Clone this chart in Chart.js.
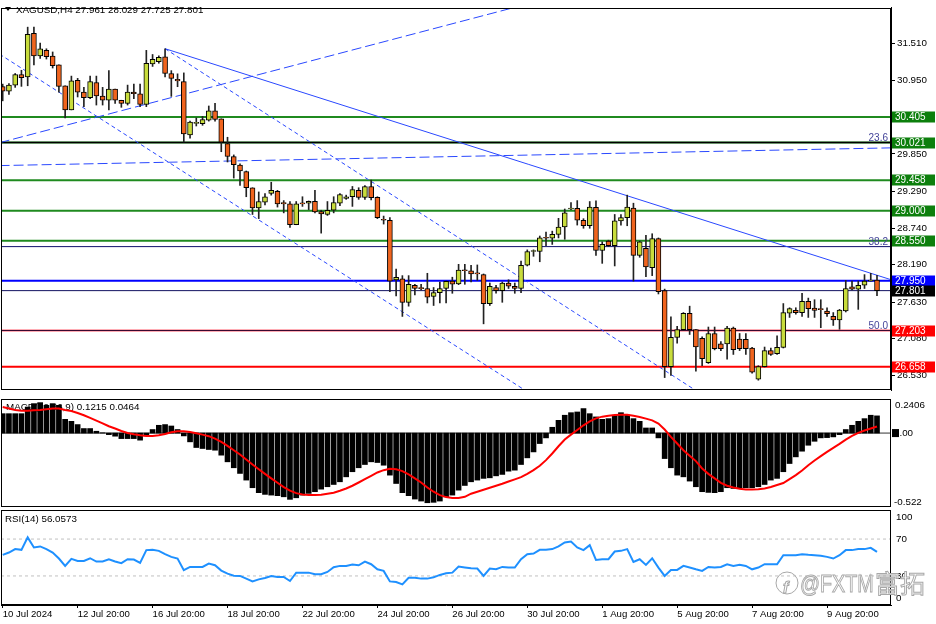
<!DOCTYPE html>
<html>
<head>
<meta charset="utf-8">
<title>XAGUSD H4</title>
<script src="https://cdn.jsdelivr.net/npm/chart.js@4.4.1/dist/chart.umd.min.js"></script>
<style>
  html, body { margin: 0; padding: 0; background: #fff; }
  #wrap { position: relative; width: 936px; height: 624px; overflow: hidden; background: #fff; }
  #wrap canvas { position: absolute; left: 0; }
</style>
</head>
<body>
<div id="wrap">
  <canvas id="mainChart" width="936" height="398" style="top:0"></canvas>
  <canvas id="macdChart" width="936" height="110" style="top:398px"></canvas>
  <canvas id="rsiChart" width="936" height="115" style="top:509px"></canvas>
</div>
<script>
// ---- values ----
const symbol = 'XAGUSD,H4';
const barsPerLabel = 12;
const timeLabels = ['10 Jul 2024', '12 Jul 20:00', '16 Jul 20:00', '18 Jul 20:00', '22 Jul 20:00', '24 Jul 20:00',
  '26 Jul 20:00', '30 Jul 20:00', '1 Aug 20:00', '5 Aug 20:00', '7 Aug 20:00', '9 Aug 20:00'];

const opens = [
  30.859, 30.791, 30.883, 31.042, 31.004, 31.660, 31.322, 31.404, 31.317, 31.187,
  30.873, 30.511, 30.955, 30.777, 30.695, 30.922, 30.719, 30.656, 30.825, 30.656,
  30.608, 30.777, 30.753, 30.594, 31.202, 31.235, 31.308, 31.057, 30.970, 30.936,
  30.135, 30.309, 30.304, 30.357, 30.497, 30.377, 30.005, 29.812, 29.682, 29.585,
  29.344, 29.040, 29.127, 29.257, 29.291, 29.122, 29.103, 28.789, 29.112, 29.112,
  29.141, 28.987, 28.943, 29.006, 29.112, 29.185, 29.209, 29.305, 29.199, 29.363,
  29.199, 28.871, 28.856, 27.963, 27.978, 27.626, 27.882, 27.833, 27.833, 27.713,
  27.771, 27.833, 27.944, 27.900, 28.109, 28.099, 28.056, 28.041, 27.607, 27.848,
  27.800, 27.915, 27.867, 27.833, 28.181, 28.388, 28.388, 28.591, 28.586, 28.644,
  28.755, 29.025, 29.035, 28.856, 28.774, 29.049, 28.403, 28.543, 28.475, 28.847,
  28.895, 29.040, 28.330, 28.437, 28.147, 28.581, 27.800, 26.661, 27.100, 27.216,
  27.462, 27.216, 27.086, 26.719, 27.158, 27.003, 27.003, 27.240, 27.076, 27.071,
  26.941, 26.473, 26.661, 26.902, 26.854, 26.950, 27.462, 27.506, 27.472, 27.640,
  27.539, 27.520, 27.496, 27.414, 27.361, 27.496, 27.858, 27.824, 27.882, 27.944,
  27.961];
const highs = [
  30.898, 30.907, 31.057, 31.105, 31.752, 31.752, 31.515, 31.428, 31.380, 31.187,
  30.873, 31.018, 30.984, 30.849, 31.018, 31.018, 30.849, 31.100, 30.825, 30.656,
  30.883, 30.898, 30.898, 31.404, 31.342, 31.322, 31.428, 31.100, 31.052, 31.066,
  30.343, 30.391, 30.415, 30.570, 30.608, 30.377, 30.101, 29.836, 29.701, 29.595,
  29.344, 29.281, 29.257, 29.426, 29.305, 29.151, 29.137, 29.137, 29.209, 29.146,
  29.305, 29.006, 29.137, 29.209, 29.257, 29.233, 29.363, 29.344, 29.378, 29.460,
  29.209, 28.919, 28.895, 28.123, 28.026, 28.026, 27.896, 27.896, 28.061, 27.848,
  27.930, 27.944, 28.002, 28.195, 28.195, 28.181, 28.186, 28.051, 27.915, 27.882,
  27.930, 27.964, 27.915, 28.244, 28.412, 28.412, 28.620, 28.678, 28.693, 28.885,
  29.025, 29.122, 29.151, 28.880, 29.137, 29.146, 28.533, 28.557, 28.943, 28.943,
  29.233, 29.112, 28.543, 28.630, 28.654, 28.591, 27.824, 27.409, 27.264, 27.472,
  27.568, 27.216, 27.110, 27.255, 27.255, 27.037, 27.264, 27.255, 27.158, 27.158,
  26.950, 26.675, 26.955, 26.941, 27.124, 27.607, 27.544, 27.544, 27.761, 27.689,
  27.665, 27.665, 27.544, 27.472, 27.520, 27.954, 27.944, 27.944, 28.041, 28.061,
  28.029];
const lows = [
  30.647, 30.743, 30.849, 30.864, 30.873, 31.187, 31.284, 31.274, 31.139, 30.777,
  30.391, 30.511, 30.705, 30.560, 30.680, 30.584, 30.584, 30.511, 30.608, 30.550,
  30.584, 30.680, 30.560, 30.560, 31.163, 31.211, 31.004, 30.714, 30.859, 30.029,
  30.087, 30.270, 30.280, 30.343, 30.343, 29.884, 29.730, 29.489, 29.378, 29.209,
  28.943, 28.881, 29.088, 29.233, 29.054, 28.967, 28.750, 28.789, 29.064, 29.016,
  28.967, 28.663, 28.929, 28.967, 29.074, 29.170, 29.064, 29.170, 29.170, 29.161,
  28.881, 28.799, 27.785, 27.723, 27.414, 27.568, 27.737, 27.810, 27.616, 27.578,
  27.616, 27.616, 27.761, 27.890, 27.896, 27.930, 27.954, 27.303, 27.578, 27.761,
  27.626, 27.833, 27.761, 27.771, 28.171, 28.316, 28.234, 28.475, 28.494, 28.591,
  28.571, 29.016, 28.784, 28.736, 28.736, 28.330, 28.210, 28.461, 28.171, 28.784,
  28.774, 27.944, 28.301, 28.012, 28.026, 27.751, 26.497, 26.531, 27.013, 27.206,
  27.143, 26.593, 26.676, 26.709, 26.912, 26.902, 26.772, 26.844, 26.902, 26.844,
  26.564, 26.458, 26.656, 26.830, 26.844, 26.941, 27.399, 27.448, 27.414, 27.399,
  27.399, 27.245, 27.414, 27.279, 27.221, 27.481, 27.810, 27.520, 27.833, 27.944,
  27.725];
const closes = [
  30.791, 30.883, 31.042, 30.994, 31.646, 31.322, 31.428, 31.308, 31.173, 30.864,
  30.511, 30.946, 30.777, 30.695, 30.936, 30.719, 30.656, 30.825, 30.656, 30.608,
  30.777, 30.753, 30.594, 31.211, 31.269, 31.298, 31.057, 30.984, 30.946, 30.150,
  30.329, 30.319, 30.367, 30.497, 30.367, 30.029, 29.812, 29.691, 29.595, 29.344,
  29.040, 29.137, 29.209, 29.305, 29.103, 29.103, 28.789, 29.103, 29.103, 29.141,
  28.982, 28.953, 29.006, 29.122, 29.243, 29.209, 29.315, 29.199, 29.363, 29.194,
  28.895, 28.856, 27.944, 28.002, 27.626, 27.896, 27.833, 27.830, 27.703, 27.771,
  27.833, 27.940, 27.896, 28.109, 28.099, 28.051, 28.051, 27.607, 27.867, 27.800,
  27.915, 27.867, 27.833, 28.181, 28.388, 28.398, 28.591, 28.586, 28.644, 28.755,
  28.967, 29.030, 28.856, 28.774, 29.054, 28.403, 28.495, 28.475, 28.847, 28.895,
  29.054, 28.330, 28.533, 28.157, 28.581, 27.785, 26.661, 27.100, 27.216, 27.462,
  27.216, 26.955, 26.782, 27.158, 26.931, 26.931, 27.240, 26.917, 26.931, 26.931,
  26.579, 26.661, 26.902, 26.844, 26.950, 27.472, 27.530, 27.472, 27.640, 27.530,
  27.506, 27.515, 27.457, 27.361, 27.510, 27.833, 27.824, 27.882, 27.944, 27.961,
  27.801];

const priceTicks = [31.51, 30.95, 29.85, 29.29, 28.74, 28.19, 27.63, 27.08, 26.53];
const greenLevels = [30.405, 30.021, 29.458, 29.000, 28.550];
const blueLevel = 27.950;
const bidPrice = 27.801;
const redLevels = [27.203, 26.658];
const fibNames = ['23.6', '38.2', '50.0'];
const fibPrices = [30.021, 28.461, 27.203];
const boxPrices = [30.405, 30.021, 29.458, 29.000, 28.550, 27.950, 27.801, 27.203, 26.658];
// trend lines: [startBar, startPrice, endBar, endPrice]
const upLine = [-0.5, 30.019, 90, 32.246];
const flatLine = [-0.5, 29.676, 142.3, 29.942];
const downLine = [26, 31.429, 142.3, 27.963];
const channelTop = [26, 31.429, 120, 25.760];
const channelBottom = [-0.5, 31.347, 90, 25.926];

const macdHist = [
  0.137, 0.137, 0.137, 0.137, 0.184, 0.208, 0.215, 0.196, 0.208, 0.196,
  0.097, 0.083, 0.060, 0.032, 0.032, 0.013, 0.002, -0.011, -0.022, -0.039,
  -0.039, -0.039, -0.050, -0.020, 0.025, 0.055, 0.060, 0.050, 0.025, -0.020,
  -0.062, -0.102, -0.109, -0.116, -0.121, -0.156, -0.203, -0.245, -0.285, -0.332,
  -0.386, -0.421, -0.433, -0.438, -0.442, -0.450, -0.468, -0.457, -0.438, -0.426,
  -0.414, -0.396, -0.379, -0.363, -0.344, -0.309, -0.273, -0.245, -0.222, -0.203,
  -0.208, -0.227, -0.297, -0.356, -0.421, -0.442, -0.466, -0.480, -0.492, -0.489,
  -0.480, -0.450, -0.438, -0.403, -0.370, -0.344, -0.332, -0.320, -0.316, -0.302,
  -0.292, -0.269, -0.262, -0.222, -0.175, -0.133, -0.074, -0.034, 0.041, 0.090,
  0.126, 0.144, 0.149, 0.173, 0.137, 0.114, 0.097, 0.102, 0.126, 0.144,
  0.126, 0.102, 0.083, 0.036, 0.036, -0.034, -0.180, -0.245, -0.297, -0.309,
  -0.339, -0.379, -0.414, -0.419, -0.421, -0.414, -0.386, -0.391, -0.386, -0.386,
  -0.386, -0.379, -0.363, -0.332, -0.320, -0.273, -0.215, -0.168, -0.128, -0.086,
  -0.058, -0.034, -0.032, -0.027, -0.011, 0.025, 0.055, 0.083, 0.102, 0.126,
  0.1215];
const macdSignal = [
  0.184, 0.173, 0.163, 0.158, 0.158, 0.161, 0.163, 0.168, 0.173, 0.173,
  0.163, 0.156, 0.142, 0.126, 0.107, 0.088, 0.069, 0.048, 0.032, 0.015,
  0.001, -0.008, -0.015, -0.020, -0.020, -0.015, -0.006, 0.006, 0.013, 0.013,
  0.008, -0.001, -0.011, -0.022, -0.039, -0.062, -0.090, -0.121, -0.151, -0.187,
  -0.222, -0.255, -0.288, -0.320, -0.351, -0.381, -0.407, -0.424, -0.433, -0.438,
  -0.438, -0.435, -0.428, -0.421, -0.407, -0.391, -0.372, -0.349, -0.325, -0.302,
  -0.278, -0.262, -0.252, -0.255, -0.269, -0.292, -0.320, -0.349, -0.384, -0.414,
  -0.438, -0.452, -0.459, -0.459, -0.450, -0.428, -0.414, -0.400, -0.386, -0.372,
  -0.358, -0.342, -0.327, -0.311, -0.288, -0.262, -0.231, -0.191, -0.144, -0.093,
  -0.046, -0.011, 0.022, 0.055, 0.083, 0.104, 0.116, 0.123, 0.128, 0.130,
  0.130, 0.123, 0.114, 0.102, 0.090, 0.067, 0.025, -0.027, -0.074, -0.121,
  -0.160, -0.198, -0.250, -0.288, -0.320, -0.351, -0.372, -0.384, -0.393, -0.398,
  -0.398, -0.396, -0.391, -0.381, -0.367, -0.353, -0.325, -0.297, -0.264, -0.227,
  -0.194, -0.163, -0.133, -0.104, -0.076, -0.046, -0.020, 0.001, 0.018, 0.032,
  0.0464];
const macdRange = [-0.522, 0.2406];

const rsiValues = [
  52.9, 55.4, 59.1, 58.3, 71.8, 60.9, 62.0, 59.1, 55.4, 48.9,
  40.9, 48.5, 46.3, 46.3, 49.2, 45.6, 45.6, 48.1, 45.6, 43.8,
  48.1, 47.8, 44.1, 58.0, 58.3, 57.2, 53.6, 50.7, 48.9, 36.2,
  39.8, 39.8, 39.8, 43.4, 41.6, 35.8, 32.5, 30.3, 30.0, 27.1,
  24.1, 26.3, 27.8, 30.0, 28.9, 28.9, 24.5, 33.6, 33.6, 33.6,
  31.8, 31.8, 34.3, 39.4, 40.9, 40.9, 42.3, 41.6, 45.6, 42.7,
  37.3, 35.5, 24.1, 23.4, 20.9, 28.1, 28.1, 27.1, 27.1, 28.5,
  31.1, 32.9, 33.6, 40.2, 39.2, 38.3, 38.0, 30.0, 38.0, 37.2,
  39.8, 39.1, 39.1, 48.1, 53.6, 54.3, 58.3, 58.3, 59.1, 62.0,
  66.3, 67.4, 60.9, 58.0, 63.4, 47.4, 48.1, 48.1, 56.5, 57.2,
  59.1, 45.2, 48.1, 42.0, 49.2, 39.1, 30.0, 36.5, 36.5, 40.9,
  39.1, 37.2, 35.5, 39.8, 39.1, 39.8, 42.7, 40.9, 42.0, 40.9,
  37.2, 39.1, 42.7, 42.7, 42.7, 52.5, 52.5, 52.5, 53.6, 52.9,
  52.5, 51.8, 50.7, 48.9, 52.5, 58.0, 58.0, 59.1, 59.1, 60.5,
  56.0573];
const rsiLevels = [70, 30];
const rsiAxisLabels = [100, 70, 30, 0];

// ---- chart setup ----
const FONT = 'Liberation Sans';
Chart.defaults.font.family = FONT;
Chart.defaults.font.size = 10;
Chart.defaults.color = '#000';

const X_MIN = -0.272, X_MAX = 142.242;
const bars = opens.map((_, i) => i);
const last = bars.length - 1;
const bullColor = '#c8dc3c', bearColor = '#f0641e';

function lineDs(seg, color, width, dash, order) {
  return {
    type: 'line',
    data: [{ x: seg[0], y: seg[1] }, { x: seg[2], y: seg[3] }],
    borderColor: color, borderWidth: width, borderDash: dash || [],
    pointRadius: 0, fill: false, tension: 0, order: order
  };
}
function hline(v, color, width, dash, order) {
  return lineDs([X_MIN, v, X_MAX, v], color, width, dash, order);
}
const hiddenX = { type: 'linear', min: X_MIN, max: X_MAX, offset: false, display: false, grid: { offset: false } };
const common = {
  responsive: false, animation: false, events: [],
  plugins: { legend: { display: false }, tooltip: { enabled: false } }
};

const framePlugin = {
  id: 'frame',
  afterDraw(chart) {
    const { ctx, chartArea: a } = chart;
    ctx.save();
    ctx.strokeStyle = '#000';
    ctx.lineWidth = 1;
    ctx.strokeRect(Math.round(a.left) + 0.5, Math.round(a.top) + 0.5,
      Math.round(a.right - a.left) - 1, Math.round(a.bottom - a.top) - 1);
    ctx.restore();
  }
};

// main price pane
const mainDatasets = [
  {
    type: 'bar', label: 'body',
    data: bars.map(i => ({ x: i, y: [opens[i], closes[i]] })),
    backgroundColor: bars.map(i => closes[i] >= opens[i] ? bullColor : bearColor),
    borderColor: '#000', borderWidth: 1, borderSkipped: false,
    barThickness: 5, minBarLength: 1, grouped: false, order: 0
  },
  {
    type: 'bar', label: 'wick',
    data: bars.map(i => ({ x: i, y: [lows[i], highs[i]] })),
    backgroundColor: '#222', barThickness: 1, grouped: false, order: 1
  }
];
greenLevels.forEach(v => mainDatasets.push(hline(v, '#1f8a1f', 2, null, 6)));
fibPrices.forEach((v, k) => mainDatasets.push(hline(v, k === 0 ? '#000' : (k === 2 ? '#3a0830' : '#10106e'), k === 0 ? 1.5 : 1, null, 4)));
mainDatasets.push(hline(redLevels[0], '#ff5a6a', 2, null, 5));
mainDatasets.push(hline(redLevels[1], '#ff0000', 2, null, 5));
mainDatasets.push(hline(blueLevel, '#0000ff', 2, null, 5));
mainDatasets.push(hline(bidPrice, '#101060', 1, null, 4));
mainDatasets.push(lineDs(upLine, '#2a48ff', 1, [10, 4], 3));
mainDatasets.push(lineDs(flatLine, '#2a48ff', 1, [10, 4], 3));
mainDatasets.push(lineDs(downLine, '#2a48ff', 1, null, 3));
mainDatasets.push(lineDs(channelTop, '#2a48ff', 1, [4, 3], 3));
mainDatasets.push(lineDs(channelBottom, '#2a48ff', 1, [4, 3], 3));

const boxColors = ['#0c7f0c', '#0c7f0c', '#0c7f0c', '#0c7f0c', '#0c7f0c', '#0000ff', '#000', '#ff0000', '#ff0000'];

const mainOverlay = {
  id: 'mainOverlay',
  afterDatasetsDraw(chart) {
    const { ctx, chartArea: a } = chart;
    const y = chart.scales.y;
    ctx.save();
    // fibo level names
    ctx.font = '10px ' + FONT;
    ctx.fillStyle = '#44449a';
    ctx.textAlign = 'right';
    ctx.textBaseline = 'bottom';
    fibNames.forEach((n, k) => ctx.fillText(n, a.right - 3, y.getPixelForValue(fibPrices[k]) + 1));
    // header
    ctx.fillStyle = '#000';
    ctx.beginPath();
    ctx.moveTo(5, 7); ctx.lineTo(11, 7); ctx.lineTo(8, 11); ctx.closePath(); ctx.fill();
    ctx.font = '9.8px ' + FONT;
    ctx.textAlign = 'left';
    ctx.textBaseline = 'middle';
    const ohlc = [opens[last], highs[last], lows[last], closes[last]].map(v => v.toFixed(3)).join(' ');
    ctx.fillText(symbol + ' ' + ohlc, 16, 10);
    ctx.restore();
  },
  afterDraw(chart) {
    const { ctx } = chart;
    const y = chart.scales.y;
    ctx.save();
    ctx.font = '10px ' + FONT;
    ctx.textAlign = 'left';
    ctx.textBaseline = 'middle';
    boxPrices.forEach((v, k) => {
      const py = Math.round(y.getPixelForValue(v));
      ctx.fillStyle = boxColors[k];
      ctx.fillRect(892, py - 5.5, 43, 11);
      ctx.fillStyle = '#fff';
      ctx.fillText(v.toFixed(3), 895, py + 0.5);
    });
    ctx.restore();
  }
};

new Chart(document.getElementById('mainChart'), {
  type: 'bar',
  data: { datasets: mainDatasets },
  options: Object.assign({}, common, {
    layout: { padding: { left: 1, top: 1, right: 0, bottom: 1 } },
    scales: {
      x: hiddenX,
      y: {
        type: 'linear', position: 'right', min: 26.309, max: 32.041,
        afterFit: s => { s.width = 45; },
        afterBuildTicks: s => { s.ticks = priceTicks.map(v => ({ value: v })); },
        ticks: { callback: v => Number(v).toFixed(3), padding: 2, font: { size: 9.8 }, color: '#000', autoSkip: false },
        grid: { drawOnChartArea: false, drawTicks: true, tickLength: 4, color: '#000' },
        border: { display: true, color: '#000' }
      }
    }
  }),
  plugins: [framePlugin, mainOverlay]
});

// MACD pane
const macdOverlay = {
  id: 'macdOverlay',
  beforeDatasetsDraw(chart) {
    const { ctx } = chart;
    ctx.save();
    ctx.font = '9.8px ' + FONT;
    ctx.fillStyle = '#000';
    ctx.textBaseline = 'middle';
    ctx.fillText('MACD(12,26,9) ' + macdHist[last].toFixed(4) + ' ' + macdSignal[last].toFixed(4), 6, 9);
    ctx.restore();
  },
  afterDraw(chart) {
    const { ctx } = chart;
    const y = chart.scales.y;
    ctx.save();
    ctx.font = '9.8px ' + FONT;
    ctx.textBaseline = 'middle';
    ctx.fillStyle = '#000';
    ctx.fillText(macdRange[1].toFixed(4), 895, y.getPixelForValue(macdRange[1]) + 6);
    ctx.fillText(macdRange[0].toFixed(3), 894, y.getPixelForValue(macdRange[0]) - 5);
    const z = y.getPixelForValue(0);
    ctx.fillRect(892, z - 4, 7, 8);
    ctx.fillText((0).toFixed(2), 894, z);
    ctx.restore();
  }
};

new Chart(document.getElementById('macdChart'), {
  type: 'bar',
  data: {
    datasets: [
      {
        type: 'line', data: macdSignal.map((v, i) => ({ x: i, y: v })),
        borderColor: '#ff0000', borderWidth: 2, pointRadius: 0, tension: 0, order: 0
      },
      {
        type: 'bar', data: macdHist.map((v, i) => ({ x: i, y: v })),
        backgroundColor: '#000', barThickness: 5, grouped: false, order: 1
      },
      hline(0, '#333', 1, null, 2)
    ]
  },
  options: Object.assign({}, common, {
    layout: { padding: { left: 1, top: 1, right: 0, bottom: 1 } },
    scales: {
      x: hiddenX,
      y: {
        type: 'linear', position: 'right', min: macdRange[0], max: macdRange[1],
        afterFit: s => { s.width = 45; },
        ticks: { display: false },
        grid: { display: false },
        border: { display: false }
      }
    }
  }),
  plugins: [framePlugin, macdOverlay]
});

// RSI pane
const rsiOverlay = {
  id: 'rsiOverlay',
  beforeDatasetsDraw(chart) {
    const { ctx } = chart;
    ctx.save();
    ctx.font = '9.8px ' + FONT;
    ctx.fillStyle = '#000';
    ctx.textBaseline = 'middle';
    ctx.fillText('RSI(14) ' + rsiValues[last].toFixed(4), 5, 10);
    ctx.restore();
  },
  afterDraw(chart) {
    const { ctx } = chart;
    const y = chart.scales.y;
    ctx.save();
    ctx.font = '9.8px ' + FONT;
    ctx.textBaseline = 'middle';
    ctx.fillStyle = '#000';
    rsiAxisLabels.forEach(v => {
      let py = y.getPixelForValue(v);
      if (v === 100) py += 6;
      if (v === 0) py -= 5;
      ctx.fillText(String(v), 896, py);
    });
    // watermark
    ctx.strokeStyle = '#a8a8a8';
    ctx.fillStyle = '#fff';
    ctx.lineWidth = 1;
    ctx.beginPath();
    ctx.arc(787, 74, 11, 0, Math.PI * 2);
    ctx.stroke();
    ctx.font = 'italic bold 16px ' + FONT;
    ctx.strokeText('f', 783, 80);
    ctx.save();
    ctx.translate(800, 83);
    ctx.scale(0.82, 1);
    ctx.font = '24px ' + FONT;
    ctx.textBaseline = 'alphabetic';
    ctx.fillText('@FXTM', 0, 0);
    ctx.strokeText('@FXTM', 0, 0);
    ctx.restore();
    ctx.font = '25px "Noto Sans CJK SC"';
    ctx.textBaseline = 'alphabetic';
    ctx.fillText('富拓', 875, 84);
    ctx.strokeText('富拓', 875, 84);
    ctx.restore();
  }
};

new Chart(document.getElementById('rsiChart'), {
  type: 'line',
  data: {
    datasets: [
      {
        data: rsiValues.map((v, i) => ({ x: i, y: v })),
        borderColor: '#1e90ff', borderWidth: 2, pointRadius: 0, tension: 0, order: 0
      },
      hline(rsiLevels[0], '#c0c0c0', 1, [3, 3], 1),
      hline(rsiLevels[1], '#c0c0c0', 1, [3, 3], 1)
    ]
  },
  options: Object.assign({}, common, {
    layout: { padding: { left: 1, top: 1, right: 0, bottom: 0 } },
    scales: {
      x: {
        type: 'linear', min: X_MIN, max: X_MAX, offset: false,
        afterFit: s => { s.height = 19; },
        afterBuildTicks: s => { s.ticks = timeLabels.map((t, k) => ({ value: k * barsPerLabel })); },
        ticks: {
          callback: (v, k) => timeLabels[k], align: 'start', maxRotation: 0, minRotation: 0,
          autoSkip: false, padding: 1, font: { size: 9.6 }, color: '#000'
        },
        grid: { drawOnChartArea: false, drawTicks: true, tickLength: 3, color: '#000' },
        border: { display: true, color: '#000' }
      },
      y: {
        type: 'linear', position: 'right', min: -1.5, max: 101.5,
        afterFit: s => { s.width = 45; },
        ticks: { display: false },
        grid: { display: false },
        border: { display: false }
      }
    }
  }),
  plugins: [framePlugin, rsiOverlay]
});
</script>
</body>
</html>
